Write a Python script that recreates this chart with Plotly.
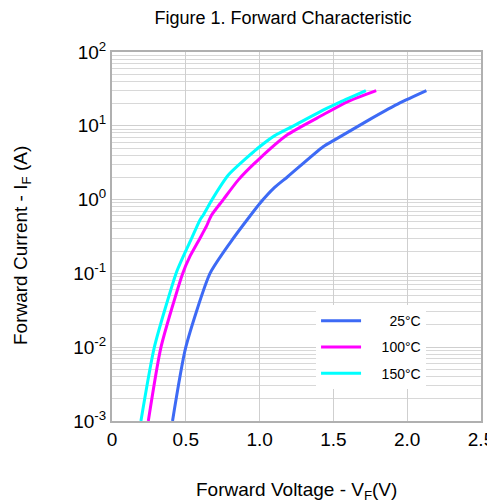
import plotly.graph_objects as go

v25 = [0.41, 0.50, 0.664, 0.80, 0.935, 1.00, 1.10, 1.19, 1.43, 1.50, 1.75, 1.95, 2.13]
i25 = [0.001, 0.01, 0.1, 0.26, 0.60, 0.88, 1.45, 2.04, 5.2, 6.3, 12.3, 20.4, 30.0]
v100 = [0.246, 0.332, 0.479, 0.528, 0.596, 0.641, 0.673, 0.754, 0.856, 1.00, 1.19, 1.43, 1.59, 1.79]
i100 = [0.001, 0.01, 0.1, 0.17, 0.30, 0.44, 0.61, 1.0, 1.85, 3.6, 7.6, 14.1, 21.0, 30.0]
v150 = [0.196, 0.287, 0.434, 0.483, 0.54, 0.596, 0.619, 0.678, 0.788, 0.90, 1.00, 1.10, 1.24, 1.43, 1.545, 1.72]
i150 = [0.001, 0.01, 0.1, 0.17, 0.30, 0.53, 0.62, 1.0, 2.15, 3.5, 5.2, 7.3, 10.2, 16.3, 21.0, 30.0]

xticks = [0, 0.5, 1.0, 1.5, 2.0, 2.5]
xlabels = ["0", "0.5", "1.0", "1.5", "2.0", "2.5"]
yticks = [1e-3, 1e-2, 1e-1, 1e0, 1e1, 1e2]
ylabels = ["10<sup>-3</sup>", "10<sup>-2</sup>", "10<sup>-1</sup>", "10<sup>0</sup>", "10<sup>1</sup>", "10<sup>2</sup>"]

series = [
    ("      25°C", v25, i25, "#3d6af5"),
    ("    100°C", v100, i100, "#ff00ff"),
    ("    150°C", v150, i150, "#00ffff"),
]

W, H = 487, 500
L, R, T, B = 104, 14, 44, 87

fig = go.Figure()
for name, xs, ys, col in series:
    fig.add_trace(go.Scatter(x=xs, y=ys, mode="lines", name=name, legendgroup=name,
                             line=dict(color=col, width=3, shape="spline", smoothing=0.6)))

font = "Liberation Sans, Arial, sans-serif"
PH = H - T - B
fig.update_layout(
    width=W, height=H,
    margin=dict(l=L, r=R, t=T, b=B),
    paper_bgcolor="white", plot_bgcolor="white",
    font=dict(family=font, color="black"),
    title=dict(text="Figure 1. Forward Characteristic", x=275 / W, xanchor="center",
               xref="container", y=1 - 10 / H, yanchor="middle", font=dict(size=18)),
    showlegend=True,
    legend=dict(x=0.553, y=0.314, xanchor="left", yanchor="top",
                bgcolor="white", borderwidth=0, font=dict(size=14),
                itemwidth=40, tracegroupgap=5),
    annotations=[
        dict(text="Forward Voltage - V<sub>F</sub>(V)", xref="paper", yref="paper",
             x=0.5, y=-(483 - (H - B)) / PH, xanchor="center", yanchor="middle",
             showarrow=False, font=dict(size=19)),
        dict(text="Forward Current - I<sub>F</sub> (A)", xref="paper", yref="paper",
             x=-(L - 14) / (W - L - R), y=(H - B - 238) / PH, xanchor="center", yanchor="middle",
             textangle=-90, showarrow=False, font=dict(size=19)),
    ],
)
fig.update_xaxes(range=[0, 2.5], tickvals=xticks, ticktext=xlabels, automargin=False,
                 showgrid=True, gridcolor="#cfcfcf", gridwidth=1,
                 showline=True, linecolor="#b0b0b0", linewidth=2, mirror=True,
                 ticks="", tickfont=dict(size=19), zeroline=False)
fig.update_yaxes(type="log", range=[-3, 2], tickvals=yticks, ticktext=ylabels, automargin=False,
                 showgrid=True, gridcolor="#cfcfcf", gridwidth=1,
                 minor=dict(showgrid=True, gridcolor="#d8d8d8", gridwidth=1, ticks="", dtick="D1"),
                 showline=True, linecolor="#b0b0b0", linewidth=2, mirror=True,
                 ticks="", tickfont=dict(size=19), zeroline=False)

fig.write_html("out.html")
